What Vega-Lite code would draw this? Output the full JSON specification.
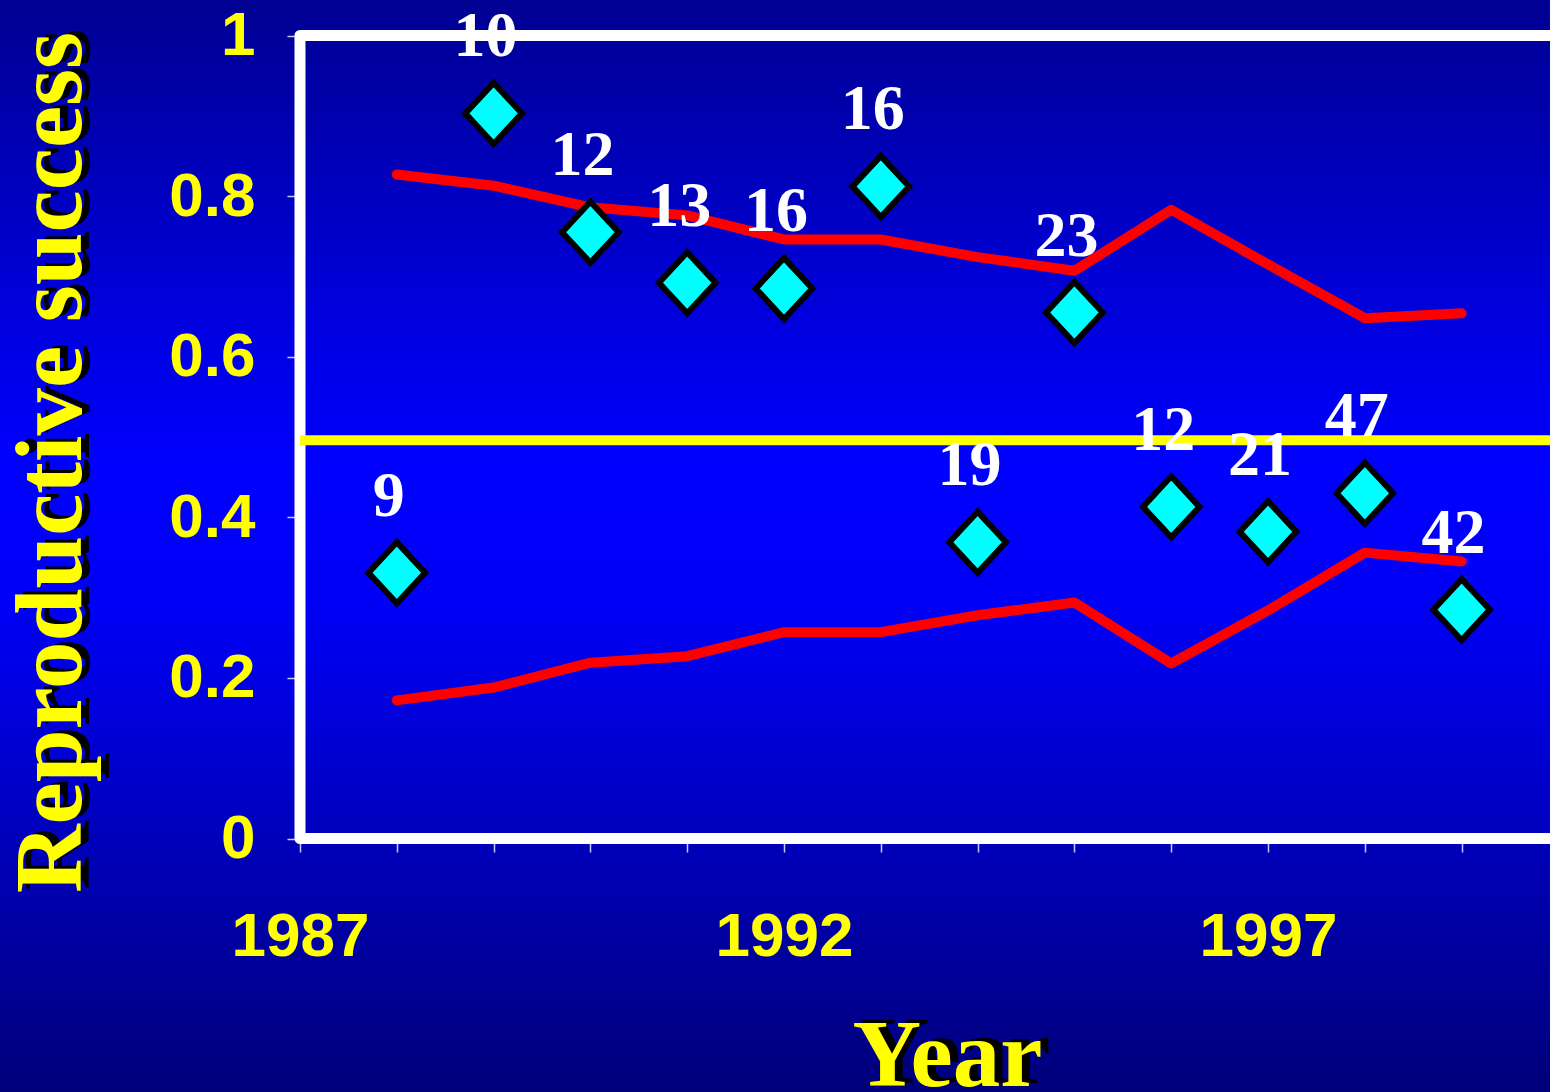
{
  "$schema": "https://vega.github.io/schema/vega-lite/v6.json",
  "width": 1550,
  "height": 1092,
  "autosize": {"type": "none"},
  "padding": 0,
  "background": "#000090",
  "config": {
    "view": {
      "stroke": null,
      "fill": {"gradient": "linear", "x1": 0, "y1": 0, "x2": 0, "y2": 1,
        "stops": [
          {"offset": 0, "color": "#000092"},
          {"offset": 0.42, "color": "#0000FF"},
          {"offset": 0.55, "color": "#0000F8"},
          {"offset": 1, "color": "#00007A"}
        ]}
    }
  },
  "datasets": {
    "points": [
      {"year": 1988, "value": 0.331, "n": "9"},
      {"year": 1989, "value": 0.903, "n": "10"},
      {"year": 1990, "value": 0.755, "n": "12"},
      {"year": 1991, "value": 0.692, "n": "13"},
      {"year": 1992, "value": 0.685, "n": "16"},
      {"year": 1993, "value": 0.812, "n": "16"},
      {"year": 1994, "value": 0.369, "n": "19"},
      {"year": 1995, "value": 0.655, "n": "23"},
      {"year": 1996, "value": 0.413, "n": "12"},
      {"year": 1997, "value": 0.382, "n": "21"},
      {"year": 1998, "value": 0.430, "n": "47"},
      {"year": 1999, "value": 0.285, "n": "42"}
    ],
    "bands": [
      {"year": 1988, "value": 0.827, "band": "upper"},
      {"year": 1989, "value": 0.813, "band": "upper"},
      {"year": 1990, "value": 0.786, "band": "upper"},
      {"year": 1991, "value": 0.776, "band": "upper"},
      {"year": 1992, "value": 0.746, "band": "upper"},
      {"year": 1993, "value": 0.746, "band": "upper"},
      {"year": 1994, "value": 0.724, "band": "upper"},
      {"year": 1995, "value": 0.707, "band": "upper"},
      {"year": 1996, "value": 0.783, "band": "upper"},
      {"year": 1997, "value": 0.715, "band": "upper"},
      {"year": 1998, "value": 0.648, "band": "upper"},
      {"year": 1999, "value": 0.654, "band": "upper"},
      {"year": 1988, "value": 0.172, "band": "lower"},
      {"year": 1989, "value": 0.188, "band": "lower"},
      {"year": 1990, "value": 0.219, "band": "lower"},
      {"year": 1991, "value": 0.227, "band": "lower"},
      {"year": 1992, "value": 0.257, "band": "lower"},
      {"year": 1993, "value": 0.257, "band": "lower"},
      {"year": 1994, "value": 0.278, "band": "lower"},
      {"year": 1995, "value": 0.294, "band": "lower"},
      {"year": 1996, "value": 0.218, "band": "lower"},
      {"year": 1997, "value": 0.284, "band": "lower"},
      {"year": 1998, "value": 0.356, "band": "lower"},
      {"year": 1999, "value": 0.345, "band": "lower"}
    ]
  },
  "resolve": {"axis": {"x": "independent", "y": "independent"}},
  "layer": [
    {
      "data": {"values": [{}]},
      "mark": {"type": "rect", "fillOpacity": 0, "stroke": "#FFFFFF", "strokeWidth": 11, "strokeJoin": "round"},
      "encoding": {
        "x": {"datum": 1987, "type": "quantitative", "scale": {"domain": [1983.901, 1999.913], "nice": false, "zero": false}, "axis": null},
        "x2": {"datum": 2001},
        "y": {"datum": 0, "type": "quantitative", "scale": {"domain": [-0.31569, 1.04421], "nice": false, "zero": false}, "axis": null},
        "y2": {"datum": 1}
      }
    },
    {
      "data": {"values": [{}]},
      "mark": {"type": "rule", "color": "#FFFF00", "strokeWidth": 10},
      "encoding": {
        "x": {"datum": 1987, "type": "quantitative", "scale": {"domain": [1983.901, 1999.913], "nice": false, "zero": false},
          "axis": {"orient": "bottom", "offset": -254, "labels": false, "ticks": false, "domain": false, "grid": false,
            "title": "Year", "titleColor": "#000000", "titleFont": "Liberation Serif", "titleFontWeight": "bold", "titleFontSize": 95,
            "titleX": 955, "titleY": 244, "titleAlign": "center", "titleBaseline": "alphabetic"}},
        "x2": {"datum": 2001},
        "y": {"datum": 0.496, "type": "quantitative", "scale": {"domain": [-0.31569, 1.04421], "nice": false, "zero": false},
          "axis": {"orient": "left", "offset": -300, "labels": false, "ticks": false, "domain": false, "grid": false,
            "title": "Reproductive success", "titleColor": "#000000", "titleFont": "Liberation Serif", "titleFontWeight": "bold", "titleFontSize": 95,
            "titleX": -212, "titleY": 459, "titleAngle": -90, "titleAlign": "center", "titleBaseline": "alphabetic"}}
      }
    },
    {
      "data": {"name": "bands"},
      "mark": {"type": "line", "color": "#FF0000", "strokeWidth": 10, "strokeCap": "round", "strokeJoin": "round"},
      "encoding": {
        "x": {"field": "year", "type": "quantitative", "scale": {"domain": [1983.901, 1999.913], "nice": false, "zero": false}, "axis": null},
        "y": {"field": "value", "type": "quantitative", "scale": {"domain": [-0.31569, 1.04421], "nice": false, "zero": false}, "axis": null},
        "detail": {"field": "band"}
      }
    },
    {
      "data": {"name": "points"},
      "mark": {"type": "point", "shape": "M0,-1.08L1,0L0,1.08L-1,0Z", "size": 3200, "filled": true, "fill": "#00FFFF", "stroke": "#000000", "strokeWidth": 6, "opacity": 1, "fillOpacity": 1, "strokeJoin": "miter"},
      "encoding": {
        "x": {"field": "year", "type": "quantitative", "scale": {"domain": [1983.901, 1999.913], "nice": false, "zero": false},
          "axis": {"orient": "bottom", "offset": -254, "values": [1987, 1988, 1989, 1990, 1991, 1992, 1993, 1994, 1995, 1996, 1997, 1998, 1999],
            "format": "d", "labelExpr": "datum.value % 5 == 2 ? datum.label : ''",
            "labelColor": "#FFFF00", "labelFont": "Liberation Sans", "labelFontWeight": "bold", "labelFontSize": 62,
            "labelPadding": 54, "labelFlush": false, "labelOverlap": false, "labelBound": false,
            "tickColor": "#C8C8FF", "tickSize": 14, "tickWidth": 1.5, "domain": false, "grid": false,
            "title": "Year", "titleColor": "#FFFF00", "titleFont": "Liberation Serif", "titleFontWeight": "bold", "titleFontSize": 95,
            "titleX": 947, "titleY": 247, "titleAlign": "center", "titleBaseline": "alphabetic"}},
        "y": {"field": "value", "type": "quantitative", "scale": {"domain": [-0.31569, 1.04421], "nice": false, "zero": false},
          "axis": {"orient": "left", "offset": -300, "values": [0, 0.2, 0.4, 0.6, 0.8, 1], "format": "~g",
            "labelColor": "#FFFF00", "labelFont": "Liberation Sans", "labelFontWeight": "bold", "labelFontSize": 62,
            "labelPadding": 32, "labelFlush": false, "labelOverlap": false, "labelBound": false,
            "tickColor": "#C8C8FF", "tickSize": 13, "tickWidth": 1.5, "domain": false, "grid": false,
            "title": "Reproductive success", "titleColor": "#FFFF00", "titleFont": "Liberation Serif", "titleFontWeight": "bold", "titleFontSize": 95,
            "titleX": -220, "titleY": 462, "titleAngle": -90, "titleAlign": "center", "titleBaseline": "alphabetic"}}
      }
    },
    {
      "data": {"name": "points"},
      "mark": {"type": "text", "color": "#FFFFFF", "font": "Liberation Serif", "fontWeight": "bold", "fontSize": 64, "align": "center", "baseline": "middle", "dx": -8, "dy": -76},
      "encoding": {
        "x": {"field": "year", "type": "quantitative", "scale": {"domain": [1983.901, 1999.913], "nice": false, "zero": false}, "axis": null},
        "y": {"field": "value", "type": "quantitative", "scale": {"domain": [-0.31569, 1.04421], "nice": false, "zero": false}, "axis": null},
        "text": {"field": "n"}
      }
    }
  ]
}
